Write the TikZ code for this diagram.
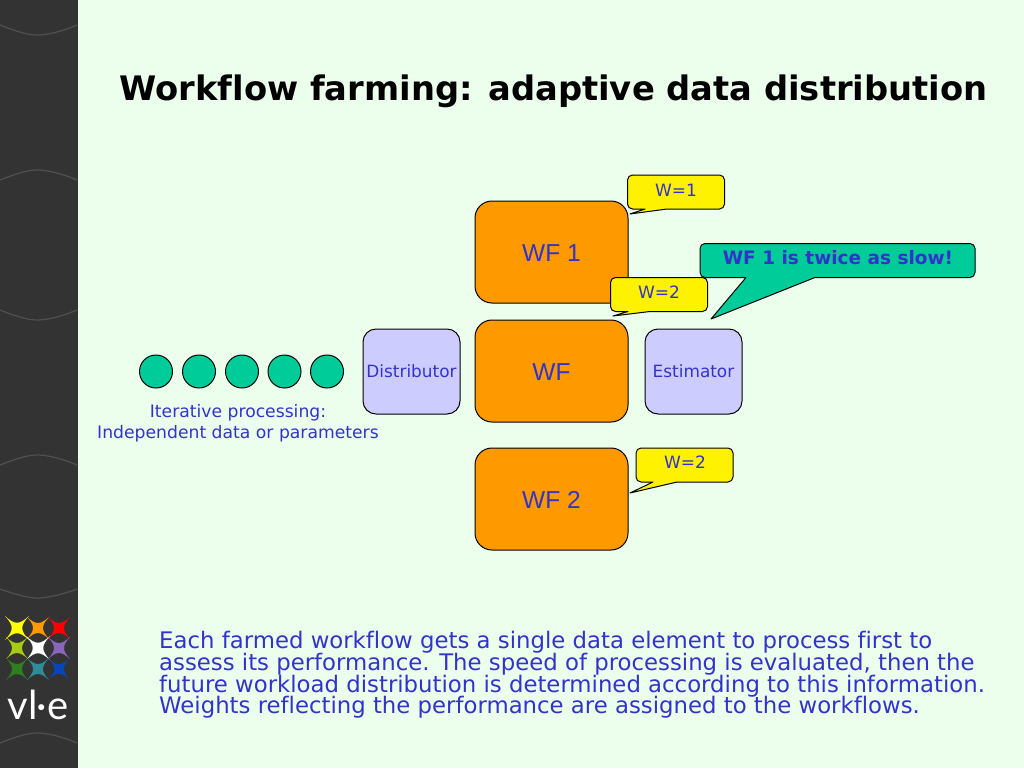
\documentclass[tikz,border=0pt]{standalone}
\usepackage{fontspec}
\setmainfont[Ligatures=NoCommon]{DejaVu Sans}
\newfontfamily\arialfont{Liberation Sans}
\newfontfamily\logofont{Lato}
\definecolor{pagebg}{HTML}{ECFFEC}
\definecolor{sidebar}{HTML}{333333}
\definecolor{sideline}{HTML}{505050}
\definecolor{wforange}{HTML}{FF9900}
\definecolor{lilacfill}{HTML}{CCCCFF}
\definecolor{tealfill}{HTML}{00CC99}
\definecolor{txtblue}{HTML}{3333CC}
\definecolor{s1}{HTML}{FFFF00}
\definecolor{s2}{HTML}{FF9900}
\definecolor{s3}{HTML}{FF0000}
\definecolor{s4}{HTML}{A5CC10}
\definecolor{s5}{HTML}{FFFFFF}
\definecolor{s6}{HTML}{8866BB}
\definecolor{s7}{HTML}{2F7F20}
\definecolor{s8}{HTML}{2F8A9A}
\definecolor{s9}{HTML}{0845B5}
\newcommand{\fsz}[1]{\fontsize{#1}{#1}\selectfont}
\newcommand{\fszb}[2]{\fontsize{#1}{#2}\selectfont\lineskip=0pt\lineskiplimit=-100pt}
\newcommand{\logostar}[4]{%
  \fill[#3] (#1-#4,#2-#4) .. controls (#1-2,#2-3) and (#1+2,#2-3) .. (#1+#4,#2-#4)
   .. controls (#1+3,#2-2) and (#1+3,#2+2) .. (#1+#4,#2+#4)
   .. controls (#1+2,#2+3) and (#1-2,#2+3) .. (#1-#4,#2+#4)
   .. controls (#1-3,#2+2) and (#1-3,#2-2) .. (#1-#4,#2-#4) -- cycle;}
\tikzset{
  x=1pt,y=-1pt,
  calloutline/.style={draw=black,line width=1pt,line join=round},
  wfbox/.style={draw=black,line width=1pt,fill=wforange,rounded corners=17pt,minimum width=153pt,minimum height=102pt,inner sep=0pt,text=txtblue,font=\arialfont\fsz{24.5},text height=19pt,text depth=0pt},
  procbox/.style={draw=black,line width=1pt,fill=lilacfill,rounded corners=13pt,minimum width=97pt,minimum height=85pt,inner sep=0pt,text=txtblue,font=\fsz{16.9}},
  dotbox/.style={circle,draw=black,line width=1pt,fill=tealfill,minimum size=33pt,inner sep=0pt},
  wlabel/.style={text=txtblue,font=\fsz{17},inner sep=0pt},
  sidecurve/.style={draw=sideline,line width=1.2pt}
}
\begin{document}
\begin{tikzpicture}
\useasboundingbox (0,0) rectangle (1024,768);
\fill[pagebg] (0,0) rectangle (1024,768);
\fill[sidebar] (0,0) rectangle (77.5,768);
\draw[sidecurve] (0,25) .. controls (20,33) and (30,35) .. (37,35) .. controls (45,35) and (58,33) .. (77,25);
\draw[sidecurve] (0,180) .. controls (20,172) and (30,170) .. (37,170) .. controls (45,170) and (58,172) .. (77,180);
\draw[sidecurve] (0,310) .. controls (20,318) and (30,320) .. (37,320) .. controls (45,320) and (58,318) .. (77,310);
\draw[sidecurve] (0,465) .. controls (20,457) and (30,455) .. (37,455) .. controls (45,455) and (58,457) .. (77,465);
\draw[sidecurve] (0,589) .. controls (20,596) and (30,598) .. (37,598) .. controls (45,598) and (58,596) .. (77,589);
\draw[sidecurve] (0,743) .. controls (20,735) and (30,733) .. (37,733) .. controls (45,733) and (58,735) .. (77,743);
\logostar{17}{628}{s1}{12}
\logostar{38}{628}{s2}{11}
\logostar{59}{628}{s3}{11}
\logostar{17}{648}{s4}{11}
\logostar{38}{648}{s5}{12}
\logostar{59}{648}{s6}{11}
\logostar{17}{669}{s7}{11}
\logostar{38}{669}{s8}{11}
\logostar{59}{669}{s9}{10}
\node[text=white,font=\logofont\fsz{40},inner sep=0pt] (logo) at (38,705) {vl·e};
\node[font=\bfseries\fsz{33.75},inner sep=0pt] (title) at (553.5,91) {Workflow farming: adaptive data distribution};
\node[wfbox] (wf1) at (551.5,252) {WF 1};
\node[wfbox] (wf) at (551.5,371) {WF};
\node[wfbox] (wf2) at (551.5,499) {WF 2};
\node[procbox] (dist) at (411.5,371.5) {Distributor};
\node[procbox] (est) at (693.5,371.5) {Estimator};
\node[dotbox] (d1) at (156,371.5) {};
\node[dotbox] (d2) at (199,371.5) {};
\node[dotbox] (d3) at (242,371.5) {};
\node[dotbox] (d4) at (284.5,371.5) {};
\node[dotbox] (d5) at (327,371.5) {};
\node[wlabel,align=center,font=\fszb{17.2}{21}] (iter) at (238,423.5) {Iterative processing:\\Independent data or parameters};
\draw[calloutline,fill=yellow] (645,209) [rounded corners=5pt] -- (627.5,209) -- (627.5,175) -- (724.5,175) -- (724.5,209) [sharp corners] -- (667,209) -- (630,214) -- cycle;
\node[wlabel] (w1) at (676,190) {W=1};
\draw[calloutline,fill=yellow] (628,311.5) [rounded corners=5pt] -- (610.5,311.5) -- (610.5,277.5) -- (707.5,277.5) -- (707.5,311.5) [sharp corners] -- (650,311.5) -- (613,316) -- cycle;
\node[wlabel] (w2) at (659,292) {W=2};
\draw[calloutline,fill=yellow] (653,482) [rounded corners=5pt] -- (636,482) -- (636,448) -- (733,448) -- (733,482) [sharp corners] -- (677,482) -- (630,493) -- cycle;
\node[wlabel] (w3) at (685,462) {W=2};
\draw[calloutline,fill=tealfill] (746,277.5) [rounded corners=5pt] -- (700,277.5) -- (700,243.5) -- (975,243.5) -- (975,277.5) [sharp corners] -- (815,277.5) -- (711,319) -- cycle;
\node[wlabel,font=\bfseries\fsz{18.5}] (slow) at (838,258) {WF 1 is twice as slow!};
\node[anchor=north west,align=left,text=txtblue,font=\fszb{22.8}{21.8},inner sep=0pt] (para) at (159,631) {Each farmed workflow gets a single data element to process first to\\assess its performance. The speed of processing is evaluated, then the\\future workload distribution is determined according to this information.\\Weights reflecting the performance are assigned to the workflows.};
\end{tikzpicture}
\end{document}
